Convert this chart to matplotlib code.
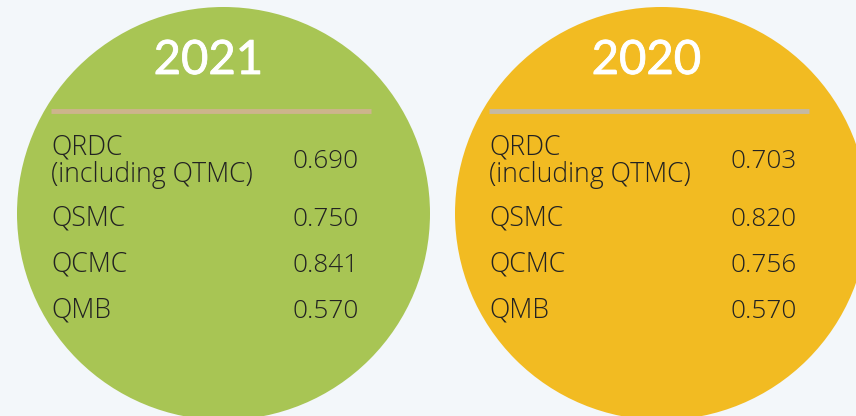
import matplotlib
matplotlib.use("Agg")
import matplotlib.pyplot as plt
from matplotlib.patches import Circle
import matplotlib.patheffects as pe

years = ["2021", "2020"]
labels = ["QRDC\n(including QTMC)", "QSMC", "QCMC", "QMB"]
values_2021 = [0.690, 0.750, 0.841, 0.570]
values_2020 = [0.703, 0.820, 0.756, 0.570]

circle_colors = ["#a8c554", "#f2bb22"]
rule_colors = ["#cdb48c", "#c5b9a2"]
bg = "#f3f7fa"

fig = plt.figure(figsize=(8.56, 4.16), dpi=100, facecolor=bg)
ax = fig.add_axes([0, 0, 1, 1])
ax.set_xlim(0, 856)
ax.set_ylim(416, 0)
ax.set_aspect("equal")
ax.axis("off")

centers = [223.5, 661.5]
row_y = [162, 220, 266, 312]

for i, (year, vals) in enumerate(zip(years, [values_2021, values_2020])):
    cx = centers[i]
    ax.add_patch(Circle((cx, 213.5), 206.5, color=circle_colors[i], lw=0))
    ax.text(cx - 15, 61, year, color="white", fontsize=34, ha="center", va="center",
            family="Lato", path_effects=[pe.withStroke(linewidth=0.6, foreground="white")])
    ax.plot([cx - 172.5, cx + 148], [111, 111], color=rule_colors[i], lw=3.5,
            solid_capstyle="butt")
    for lab, v, y in zip(labels, vals, row_y):
        ax.text(cx - 172.5, y - 1, lab, color="#222222", fontsize=19.2, ha="left",
                va="center", family="Open Sans", fontweight="light", linespacing=0.98)
        ax.text(cx + 135, y, f"{v:.3f}", color="#222222", fontsize=18.8, ha="right",
                va="center", family="Open Sans", fontweight="light")

fig.savefig("out.png", dpi=100, facecolor=bg)
